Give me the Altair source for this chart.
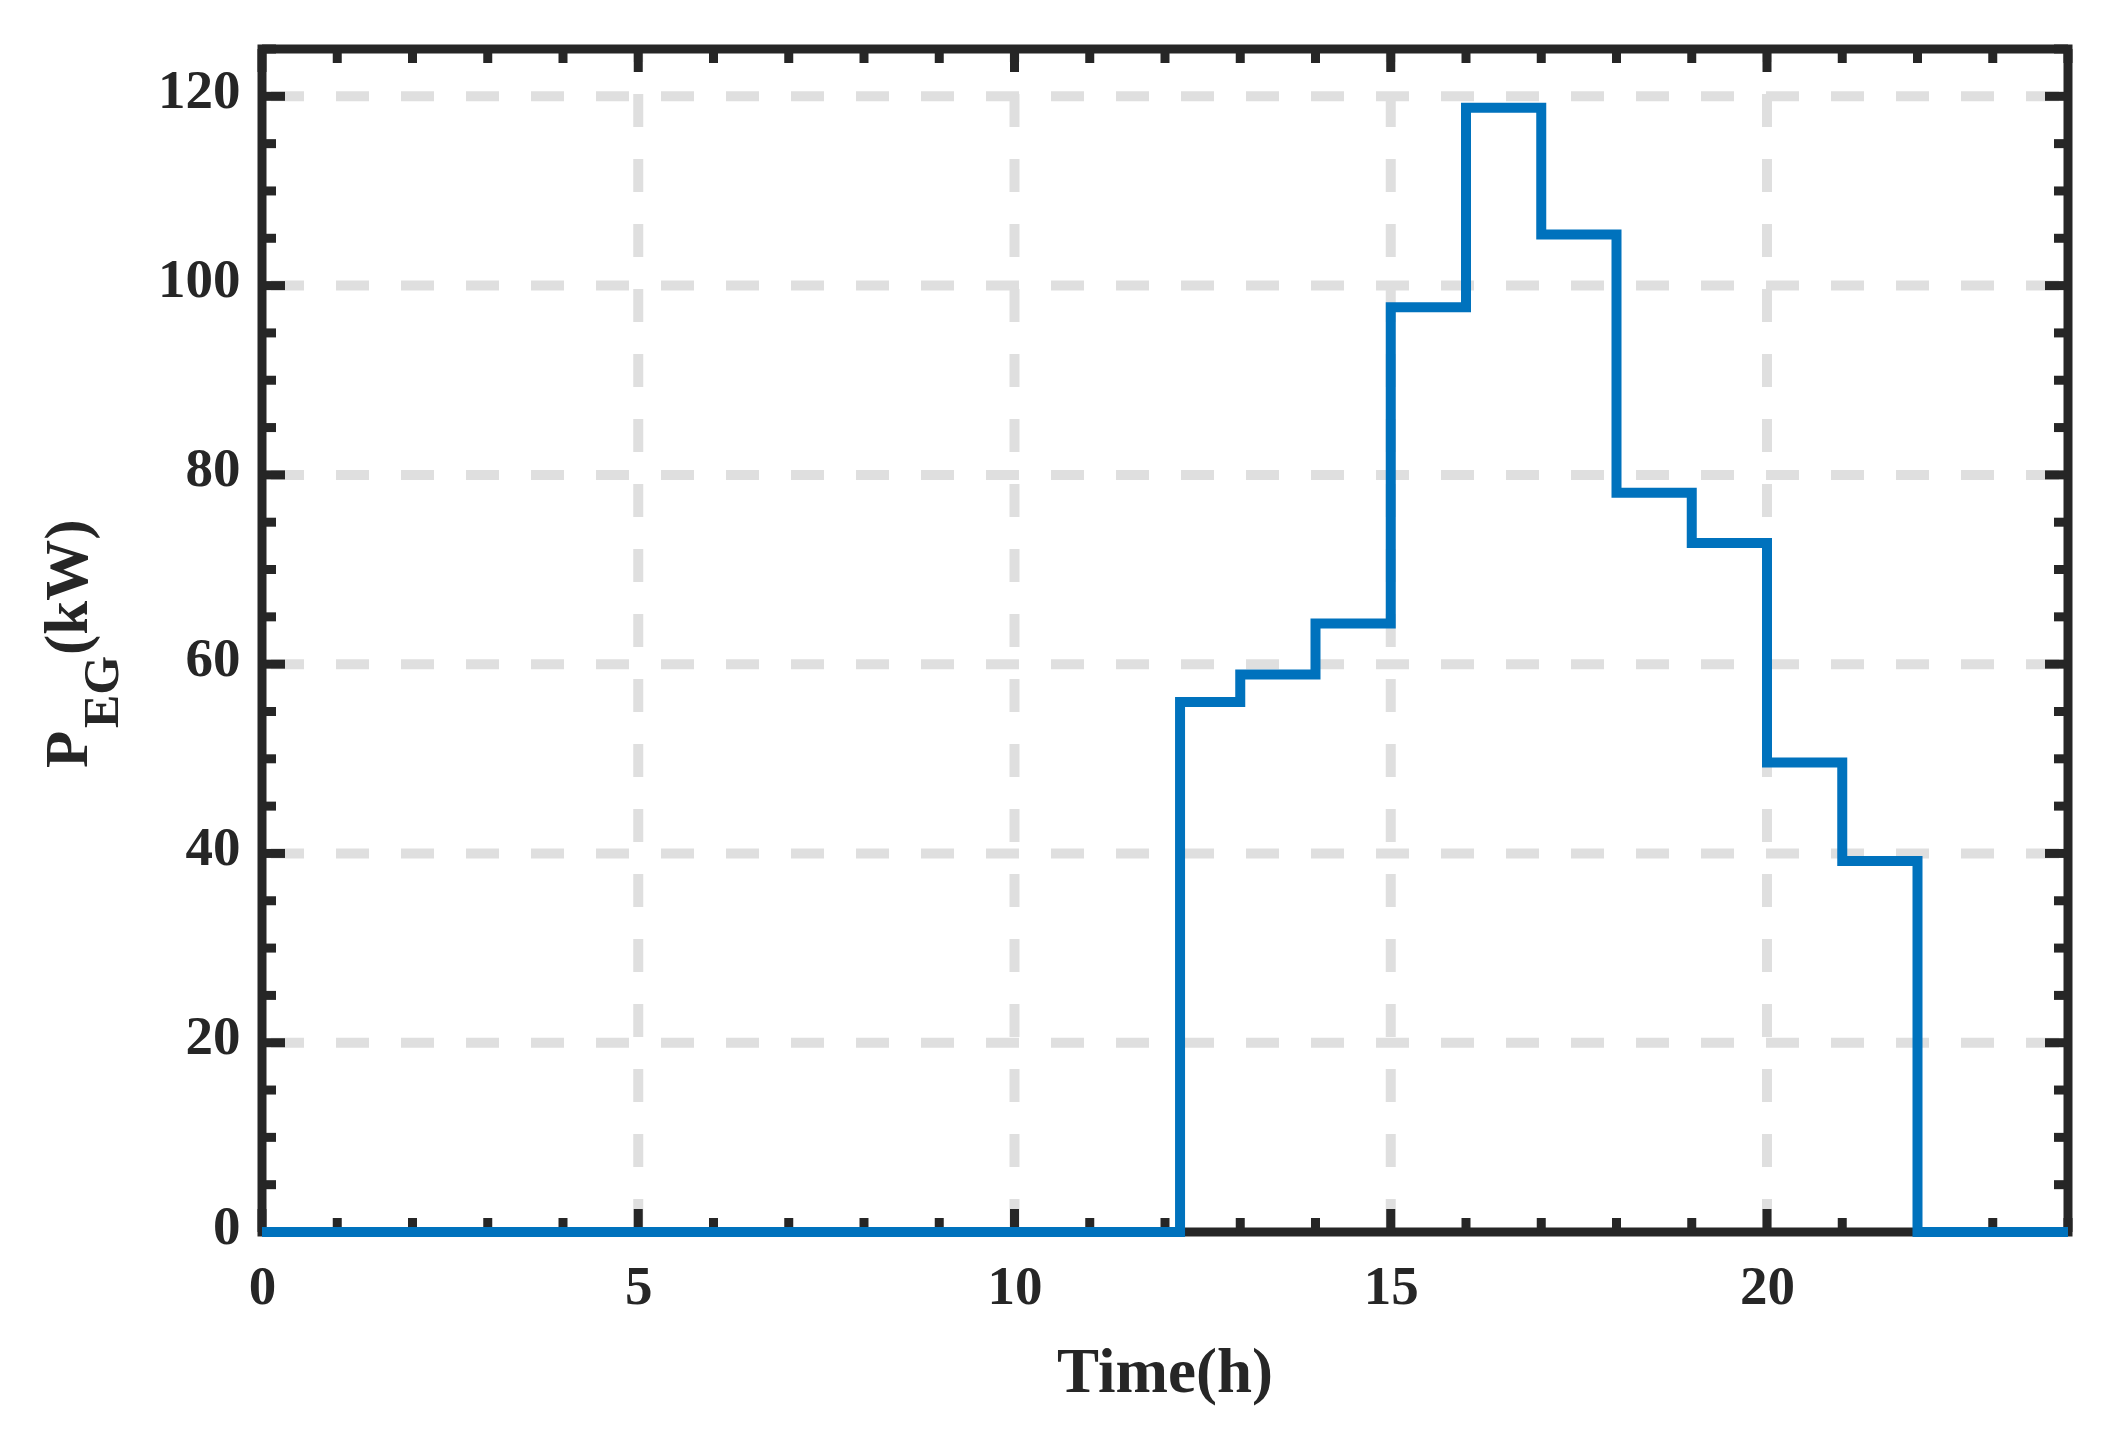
import altair as alt
import pandas as pd

# ---- data ----
times = [0, 12.2, 13, 14, 15, 16, 17, 18, 19, 20, 21, 22, 24]
power = [0, 56.0, 58.9, 64.3, 97.7, 118.8, 105.4, 78.1, 72.8, 49.6, 39.2, 0, 0]

x_major = [0, 5, 10, 15, 20]
x_minor = [v for v in range(0, 25) if v % 5 != 0]
y_major = [0, 20, 40, 60, 80, 100, 120]
y_minor = [v for v in range(0, 126, 5) if v % 20 != 0]
x_grid = [5, 10, 15, 20]
y_grid = [20, 40, 60, 80, 100, 120]

x_title = "Time(h)"
y_title_parts = ["P", "EG", "(kW)"]

# ---- layout ----
W, H = 1806, 1183
FONT = "Liberation Serif"
INK = "#262626"
BLUE = "#0072BD"
GRID = "#dfdfdf"

xscale = alt.Scale(domain=[0, 24], nice=False, zero=False)
yscale = alt.Scale(domain=[0, 125], nice=False, zero=False)

xaxis = alt.Axis(values=x_major, grid=False, domain=False, ticks=False, tickSize=0,
                 labelFont=FONT, labelFontSize=55, labelFontWeight="bold", labelColor=INK,
                 labelBaseline="alphabetic", labelPadding=71, labelFlush=False,
                 labelOverlap=False, title=None)
yaxis = alt.Axis(values=y_major, grid=False, domain=False, ticks=False, tickSize=0,
                 labelFont=FONT, labelFontSize=55, labelFontWeight="bold", labelColor=INK,
                 labelBaseline="alphabetic", labelOffset=11, labelPadding=22,
                 labelFlush=False, labelOverlap=False, title=None)


def X(field="v"):
    return alt.X(f"{field}:Q", scale=xscale, axis=xaxis)


def Y(field="v"):
    return alt.Y(f"{field}:Q", scale=yscale, axis=yaxis)


df_line = pd.DataFrame({"t": times, "p": power})

# grid lines
vgrid = alt.Chart(pd.DataFrame({"v": x_grid})).mark_rule(
    color=GRID, strokeWidth=10, strokeDash=[33, 32], strokeCap="butt"
).encode(x=X(), y=alt.value(H), y2=alt.value(0))

hgrid = alt.Chart(pd.DataFrame({"v": y_grid})).mark_rule(
    color=GRID, strokeWidth=10, strokeDash=[33, 32], strokeDashOffset=56, strokeCap="butt"
).encode(y=Y(), x=alt.value(0), x2=alt.value(W))

# frame
frame = alt.Chart(pd.DataFrame({"x0": [0], "x1": [24], "y0": [0], "y1": [125]})).mark_rect(
    fillOpacity=0, stroke=INK, strokeWidth=9
).encode(x=X("x0"), x2="x1:Q", y=Y("y0"), y2="y1:Q")


def xticks(vals, length):
    d = pd.DataFrame({"v": vals})
    base = alt.Chart(d).mark_rule(color=INK, strokeWidth=9, strokeCap="butt")
    bottom = base.encode(x=X(), y=alt.value(H), y2=alt.value(H - length))
    top = base.encode(x=X(), y=alt.value(0), y2=alt.value(length))
    return [bottom, top]


def yticks(vals, length):
    d = pd.DataFrame({"v": vals})
    base = alt.Chart(d).mark_rule(color=INK, strokeWidth=9, strokeCap="butt")
    left = base.encode(y=Y(), x=alt.value(0), x2=alt.value(length))
    right = base.encode(y=Y(), x=alt.value(W), x2=alt.value(W - length))
    return [left, right]


ticks = xticks(x_major, 23) + xticks(x_minor, 14) + yticks(y_major, 23) + yticks(y_minor, 14)

line = alt.Chart(df_line).mark_line(
    interpolate="step-after", color=BLUE, strokeWidth=10, strokeCap="butt",
    strokeJoin="miter", clip=False
).encode(x=X("t"), y=Y("p"))

# titles
xt = alt.Chart(pd.DataFrame({"s": [x_title]})).mark_text(
    font=FONT, fontSize=63, fontWeight="bold", color=INK, align="center", baseline="alphabetic"
).encode(x=alt.value(W / 2), y=alt.value(1343), text="s:N")

yt_P = alt.Chart(pd.DataFrame({"s": [y_title_parts[0]]})).mark_text(
    font=FONT, fontSize=61, fontWeight="bold", color=INK, align="left",
    baseline="alphabetic", angle=270
).encode(x=alt.value(-175), y=alt.value(719), text="s:N")

yt_EG = alt.Chart(pd.DataFrame({"s": [y_title_parts[1]]})).mark_text(
    font=FONT, fontSize=50, fontWeight="bold", color=INK, align="left",
    baseline="alphabetic", angle=270
).encode(x=alt.value(-144), y=alt.value(679), text="s:N")

yt_kW = alt.Chart(pd.DataFrame({"s": [y_title_parts[2]]})).mark_text(
    font=FONT, fontSize=61, fontWeight="bold", color=INK, align="left",
    baseline="alphabetic", angle=270
).encode(x=alt.value(-175), y=alt.value(606), text="s:N")

chart = alt.layer(
    vgrid, hgrid, frame, *ticks, line, xt, yt_P, yt_EG, yt_kW
).properties(
    width=W, height=H,
    autosize=alt.AutoSizeParams(type="none"),
    padding={"left": 254, "top": 41, "right": 30, "bottom": 188},
    background="white",
).configure_view(strokeWidth=0)

chart.save("out.html", embed_options={"renderer": "svg", "actions": False})
